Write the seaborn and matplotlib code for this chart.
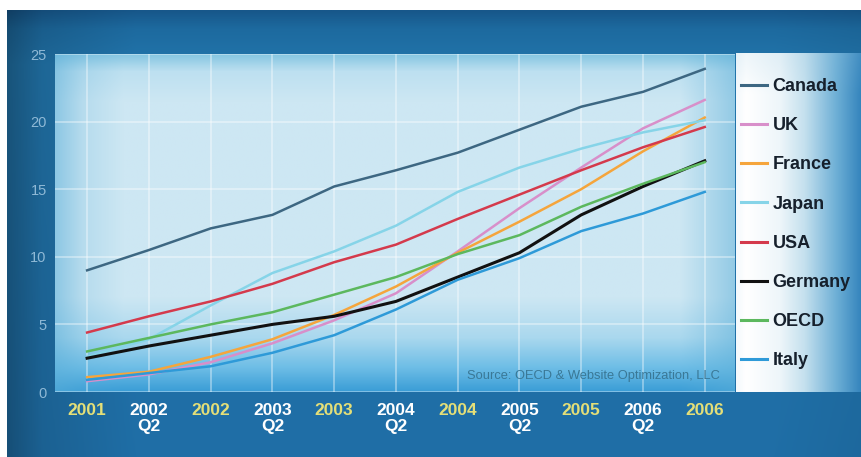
import numpy as np
import pandas as pd
import matplotlib
matplotlib.use("Agg")
import matplotlib.pyplot as plt
import seaborn as sns
from matplotlib.colors import to_rgb

# ---------------- data ----------------
periods = ["2001", "2002\nQ2", "2002", "2003\nQ2", "2003", "2004\nQ2",
           "2004", "2005\nQ2", "2005", "2006\nQ2", "2006"]
canada  = [9.0, 10.5, 12.1, 13.1, 15.2, 16.4, 17.7, 19.4, 21.1, 22.2, 23.9]
uk      = [0.8, 1.3, 2.2, 3.6, 5.3, 7.3, 10.4, 13.6, 16.6, 19.5, 21.6]
france  = [1.1, 1.5, 2.6, 3.9, 5.7, 7.8, 10.3, 12.6, 15.0, 17.8, 20.3]
japan   = [2.6, 3.9, 6.4, 8.8, 10.4, 12.3, 14.8, 16.6, 18.0, 19.2, 20.1]
usa     = [4.4, 5.6, 6.7, 8.0, 9.6, 10.9, 12.8, 14.6, 16.4, 18.1, 19.6]
germany = [2.5, 3.4, 4.2, 5.0, 5.6, 6.7, 8.5, 10.3, 13.1, 15.2, 17.1]
oecd    = [3.0, 4.0, 5.0, 5.9, 7.2, 8.5, 10.2, 11.6, 13.7, 15.4, 17.0]
italy   = [0.9, 1.4, 1.9, 2.9, 4.2, 6.1, 8.3, 9.9, 11.9, 13.2, 14.8]
countries = ["Canada", "UK", "France", "Japan", "USA", "Germany", "OECD", "Italy"]
series = [canada, uk, france, japan, usa, germany, oecd, italy]
colors = ["#3d6782", "#d88fca", "#f5a53c", "#86d4e8", "#d43a4c", "#111111",
          "#5cb85e", "#2e9ad8"]
yticks = [0, 5, 10, 15, 20, 25]

df = pd.DataFrame({
    "idx": np.tile(np.arange(len(periods)), len(countries)),
    "value": np.concatenate(series),
    "country": np.repeat(countries, len(periods)),
})

plt.rcParams["font.family"] = ["Liberation Sans", "DejaVu Sans"]

W, H = 861, 457
fig = plt.figure(figsize=(W / 100, H / 100), dpi=100)
fig.patch.set_facecolor("white")


def interp_colors(pos, cols, n):
    t = np.linspace(0, 1, n)
    rgb = np.array([to_rgb(c) for c in cols])
    return np.stack([np.interp(t, pos, rgb[:, k]) for k in range(3)], axis=-1)


# ---------------- outer dark-blue panel ----------------
bg = fig.add_axes([7 / W, 0, 1 - 7 / W, (H - 10) / H], zorder=-10)
vert = interp_colors([0, 0.04, 0.12, 1.0],
                     ["#17578a", "#1d6a9f", "#2275ab", "#1f6ea6"], 200)
horiz = np.interp(np.linspace(0, 1, 300), [0, 0.04, 0.15, 0.9, 1.0],
                  [0.72, 0.88, 1.0, 1.0, 0.95])
img = vert[:, None, :] * horiz[None, :, None]
bg.imshow(np.clip(img, 0, 1), aspect="auto", extent=[0, 1, 0, 1], origin="upper")
bg.set_axis_off()

# ---------------- plot area ----------------
x0, x1 = -0.52, 10.49
ax = fig.add_axes([55 / W, 65 / H, 680 / W, 338 / H])
pv = interp_colors([0, 0.05, 0.14, 0.72, 0.84, 0.93, 1.0],
                   ["#86c6e2", "#bde0f0", "#cde7f3", "#cde7f3", "#aad8ee",
                    "#6dbde6", "#3a9dd6"], 300)
ph = np.interp(np.linspace(0, 1, 400), [0, 0.04, 0.1, 0.92, 0.97, 1.0],
               [0.55, 0.2, 0.0, 0.0, 0.3, 0.5])
blue = np.array(to_rgb("#5aaed8"))
pimg = pv[:, None, :] * (1 - ph[None, :, None]) + blue[None, None, :] * ph[None, :, None]
ax.imshow(pimg, aspect="auto", extent=[x0, x1, 0, 25], origin="upper", zorder=0)

sns.lineplot(data=df, x="idx", y="value", hue="country", hue_order=countries,
             palette=dict(zip(countries, colors)), linewidth=1.8, ax=ax,
             zorder=3, legend=True)
for line, c in zip(ax.get_lines(), countries):
    if c == "Germany":
        line.set_linewidth(2.2)

ax.set_xlim(x0, x1)
ax.set_ylim(0, 25)
ax.set_xlabel("")
ax.set_ylabel("")
for s in ax.spines.values():
    s.set_visible(False)

ax.set_xticks(range(len(periods)))
ax.set_xticklabels(periods, fontsize=12.5, fontweight="bold", linespacing=1.05)
for i, lab in enumerate(ax.get_xticklabels()):
    lab.set_color("#e4df78" if i % 2 == 0 else "white")
    lab.set_multialignment("center")
ax.set_yticks(yticks)
ax.set_yticklabels([str(v) for v in yticks], fontsize=10.5, color="#8fb9d6")
ax.tick_params(axis="x", length=0, pad=8)
ax.tick_params(axis="y", length=0, pad=6)
ax.grid(True, color="white", alpha=0.4, linewidth=1.3, zorder=1)
for gl in ax.get_xgridlines() + ax.get_ygridlines():
    gl.set_zorder(1)

ax.text(0.978, 0.047, "Source: OECD & Website Optimization, LLC",
        transform=ax.transAxes, ha="right", va="center", fontsize=9.3,
        color="#3a7896", zorder=4)

# ---------------- legend box ----------------
lax = fig.add_axes([736 / W, (H - 392) / H, 125 / W, 339 / H], zorder=1)
lh = interp_colors([0, 0.08, 0.35, 0.55, 0.8, 1.0],
                   ["#f4f9fc", "#ffffff", "#eef6fa", "#c4e0ee", "#6fb0d6", "#3585bd"], 300)
lv = np.interp(np.linspace(0, 1, 200), [0, 0.12, 1], [0.85, 1.0, 1.0])
limg = lh[None, :, :] * lv[:, None, None] + (1 - lv[:, None, None]) * np.array(to_rgb("#8fc2de"))
lax.imshow(limg, aspect="auto", extent=[0, 1, 0, 1])
lax.set_axis_off()

handles, labels = ax.get_legend_handles_labels()
ax.get_legend().remove()
leg = fig.legend(handles, labels, loc="upper left",
                 bbox_to_anchor=(741 / W, 1 - 78 / H), frameon=False,
                 handlelength=1.45, handletextpad=0.3, labelspacing=1.23,
                 borderpad=0, borderaxespad=0,
                 prop={"size": 13, "weight": "bold"})
leg.set_zorder(20)
for t in leg.get_texts():
    t.set_color("#16202c")
for h in leg.legend_handles:
    h.set_linewidth(2.2)

fig.savefig("out.png", dpi=100)
